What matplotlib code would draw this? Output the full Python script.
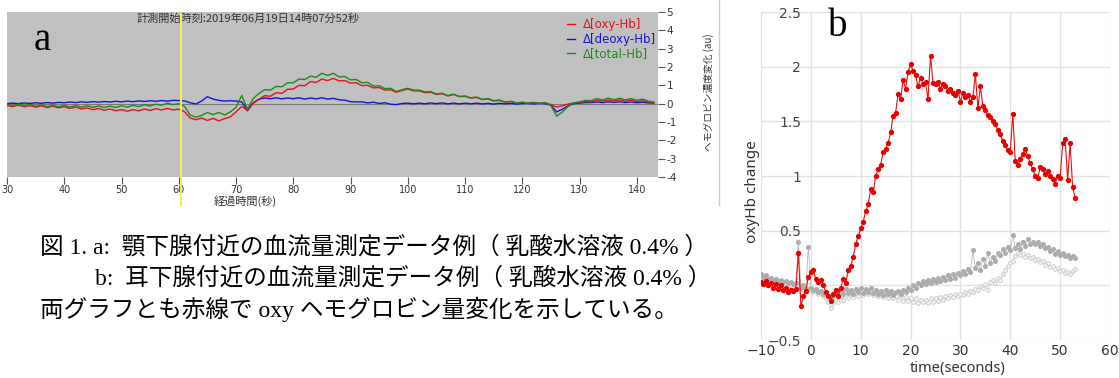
import matplotlib
matplotlib.use("Agg")
import matplotlib.pyplot as plt
import numpy as np
from matplotlib.lines import Line2D
from matplotlib.ticker import FuncFormatter

# ============================================================
# PANEL A: NIRS trace (1 s steps, 30 .. 143 s)
# ============================================================
a_time = np.arange(30, 144)

a_oxy = [
    -0.10, -0.16, -0.08, -0.17, -0.11, -0.19, -0.12, -0.21, -0.14, -0.23,
    -0.17, -0.26, -0.19, -0.29, -0.23, -0.33, -0.26, -0.36, -0.29, -0.39,
    -0.32, -0.41, -0.33, -0.39, -0.29, -0.37, -0.27, -0.35, -0.26, -0.34,
    -0.30, -0.44, -0.78, -0.88, -0.78, -0.92, -0.80, -0.94, -0.82, -0.72,
    -0.45, -0.15, -0.38, 0.02, 0.24, 0.44, 0.40, 0.60, 0.56, 0.78,
    0.80, 1.00, 0.98, 1.20, 1.16, 1.34, 1.26, 1.38, 1.24, 1.26,
    1.12, 1.14, 0.98, 1.00, 0.86, 0.88, 0.74, 0.76, 0.62, 0.72,
    0.80, 0.70, 0.70, 0.60, 0.62, 0.50, 0.54, 0.42, 0.50, 0.38,
    0.40, 0.30, 0.34, 0.22, 0.26, 0.14, 0.18, 0.08, 0.12, 0.03,
    0.07, 0.02, 0.06, 0.01, 0.05, -0.05, -0.18, -0.12, -0.02, 0.04,
    0.06, 0.12, 0.10, 0.18, 0.13, 0.20, 0.14, 0.21, 0.13, 0.19,
    0.12, 0.16, 0.09, 0.06,
]

a_deoxy = [
    0.00, 0.03, 0.00, 0.04, 0.01, 0.05, 0.02, 0.06, 0.03, 0.07,
    0.05, 0.09, 0.06, 0.10, 0.07, 0.11, 0.08, 0.12, 0.09, 0.13,
    0.10, 0.14, 0.11, 0.15, 0.12, 0.16, 0.13, 0.17, 0.14, 0.18,
    0.17, 0.15, 0.05, -0.02, 0.15, 0.38, 0.25, 0.18, 0.14, 0.16,
    0.14, 0.10, -0.38, 0.05, 0.24, 0.31, 0.27, 0.32, 0.26, 0.31,
    0.27, 0.32, 0.25, 0.31, 0.26, 0.32, 0.25, 0.29, 0.21, 0.19,
    0.11, 0.09, 0.10, 0.04, 0.08, 0.01, 0.05, -0.03, -0.05, 0.01,
    0.03, -0.01, 0.03, -0.01, 0.04, 0.00, 0.04, -0.01, 0.03, -0.01,
    0.03, -0.01, 0.03, -0.01, 0.02, -0.02, 0.02, -0.01, 0.02, -0.02,
    0.01, 0.02, -0.01, 0.02, 0.00, -0.08, -0.45, -0.30, -0.12, 0.00,
    0.03, 0.06, 0.06, 0.09, 0.06, 0.10, 0.07, 0.10, 0.06, 0.09,
    0.05, 0.08, 0.04, 0.03,
]

a_total = [
    -0.04, -0.11, -0.03, -0.13, -0.05, -0.14, -0.07, -0.16, -0.08, -0.17,
    -0.09, -0.18, -0.10, -0.19, -0.11, -0.20, -0.12, -0.21, -0.13, -0.21,
    -0.11, -0.19, -0.09, -0.16, -0.06, -0.13, -0.03, -0.09, 0.03, -0.05,
    0.00, -0.15, -0.62, -0.74, -0.64, -0.48, -0.60, -0.48, -0.62, -0.45,
    -0.20, 0.45, -0.30, 0.28, 0.56, 0.76, 0.74, 0.94, 0.92, 1.14,
    1.14, 1.34, 1.32, 1.50, 1.44, 1.66, 1.54, 1.66, 1.46, 1.48,
    1.30, 1.32, 1.14, 1.16, 0.96, 0.98, 0.82, 0.84, 0.66, 0.76,
    0.84, 0.74, 0.74, 0.64, 0.66, 0.53, 0.57, 0.44, 0.52, 0.40,
    0.42, 0.32, 0.36, 0.24, 0.28, 0.16, 0.20, 0.09, 0.13, 0.04,
    0.08, 0.03, 0.07, 0.02, 0.06, -0.10, -0.68, -0.45, -0.15, 0.05,
    0.10, 0.18, 0.16, 0.28, 0.20, 0.30, 0.21, 0.30, 0.20, 0.28,
    0.18, 0.25, 0.14, 0.08,
]

a_xticks = [30, 40, 50, 60, 70, 80, 90, 100, 110, 120, 130, 140]
a_yticks = [5, 4, 3, 2, 1, 0, -1, -2, -3, -4]
a_labels = ["Δ[oxy-Hb]", "Δ[deoxy-Hb]", "Δ[total-Hb]"]
a_marker_time = 60.4

# ============================================================
# PANEL B: oxyHb change (0.5 s steps, -10 .. 53 s)
# ============================================================
b_oxy = [
    0.03, 0.01, 0.04, 0.00, 0.02, -0.02, 0.01, -0.03, 0.00, -0.04,
    -0.02, -0.06, -0.04, -0.05, -0.03, 0.30, -0.19, -0.10, -0.05, 0.08,
    0.12, 0.14, 0.06, 0.03, 0.05, 0.00, -0.06, -0.10, -0.14, -0.08,
    -0.04, -0.10, -0.02, 0.06, 0.02, 0.14, 0.18, 0.26, 0.38, 0.45,
    0.52, 0.58, 0.68, 0.74, 0.88, 0.85, 1.00, 1.06, 1.10, 1.22,
    1.25, 1.30, 1.40, 1.55, 1.58, 1.75, 1.70, 1.88, 1.80, 1.95,
    2.02, 1.96, 1.92, 1.82, 1.90, 1.84, 1.86, 1.70, 2.10, 1.85,
    1.84, 1.86, 1.80, 1.84, 1.82, 1.78, 1.80, 1.76, 1.74, 1.78,
    1.68, 1.76, 1.72, 1.74, 1.68, 1.72, 1.93, 1.62, 1.82, 1.64,
    1.60, 1.56, 1.54, 1.50, 1.48, 1.42, 1.38, 1.32, 1.28, 1.24,
    1.22, 1.57, 1.14, 1.10, 1.16, 1.20, 1.25, 1.18, 1.12, 1.06,
    1.00, 0.98, 1.08, 1.06, 1.02, 1.05, 1.00, 0.97, 0.93, 1.00,
    0.98, 1.30, 1.34, 0.96, 1.30, 0.90, 0.80,
]

b_grey_dark = [
    0.10, 0.08, 0.09, 0.06, 0.07, 0.05, 0.06, 0.04, 0.05, 0.03,
    0.04, 0.02, 0.03, 0.01, 0.02, 0.40, -0.02, 0.00, -0.03, 0.35,
    -0.02, -0.04, -0.03, -0.06, -0.05, -0.08, -0.07, -0.10, -0.12, -0.09,
    -0.06, -0.10, -0.05, -0.08, -0.03, -0.07, -0.04, -0.08, -0.03, -0.06,
    -0.02, -0.07, -0.03, -0.06, -0.02, -0.07, -0.04, -0.08, -0.05, -0.09,
    -0.04, -0.08, -0.05, -0.09, -0.06, -0.05, -0.08, -0.04, -0.06, -0.02,
    -0.04, 0.00, -0.02, 0.02, 0.00, 0.04, 0.01, 0.05, 0.02, 0.06,
    0.03, 0.07, 0.04, 0.08, 0.05, 0.09, 0.06, 0.10, 0.07, 0.11,
    0.09, 0.13, 0.10, 0.15, 0.12, 0.32, 0.16, 0.20, 0.14, 0.24,
    0.18, 0.30, 0.20, 0.26, 0.22, 0.30, 0.28, 0.33, 0.30, 0.35,
    0.32, 0.46, 0.34, 0.38, 0.33, 0.40, 0.36, 0.42, 0.38, 0.40,
    0.38, 0.40, 0.36, 0.38, 0.34, 0.35, 0.31, 0.33, 0.29, 0.31,
    0.28, 0.30, 0.27, 0.28, 0.25, 0.27, 0.25,
]

b_grey_light = [
    0.06, 0.04, 0.05, 0.03, 0.04, 0.02, 0.03, 0.01, 0.02, 0.00,
    0.01, -0.01, 0.00, -0.02, -0.01, 0.05, -0.03, -0.04, -0.02, 0.00,
    -0.04, -0.06, -0.05, -0.08, -0.07, -0.10, -0.12, -0.15, -0.21, -0.16,
    -0.12, -0.15, -0.10, -0.13, -0.09, -0.12, -0.08, -0.11, -0.07, -0.10,
    -0.06, -0.09, -0.05, -0.08, -0.06, -0.09, -0.06, -0.10, -0.07, -0.11,
    -0.08, -0.12, -0.09, -0.12, -0.10, -0.13, -0.10, -0.14, -0.11, -0.14,
    -0.12, -0.15, -0.12, -0.16, -0.13, -0.15, -0.13, -0.16, -0.12, -0.15,
    -0.12, -0.14, -0.11, -0.13, -0.10, -0.12, -0.09, -0.11, -0.08, -0.10,
    -0.08, -0.09, -0.06, -0.08, -0.05, -0.06, -0.03, -0.04, -0.01, -0.02,
    0.01, -0.04, 0.03, 0.05, 0.02, 0.07, 0.05, 0.10, 0.14, 0.18,
    0.20, 0.22, 0.27, 0.30, 0.28, 0.29, 0.26, 0.28, 0.25, 0.26,
    0.23, 0.24, 0.21, 0.22, 0.19, 0.20, 0.17, 0.18, 0.15, 0.16,
    0.13, 0.14, 0.11, 0.12, 0.10, 0.13, 0.15,
]
b_time = -10 + 0.5 * np.arange(len(b_oxy))

CJK = ["Noto Sans CJK JP", "DejaVu Sans"]
SERIF = ["Liberation Serif", "Noto Sans CJK JP"]

W, H = 1119, 378
fig = plt.figure(figsize=(W / 100, H / 100), dpi=100)
fig.patch.set_facecolor("white")


def box(l, t, r, b):
    # pixel box -> figure fraction
    return [l / W, 1 - b / H, (r - l) / W, (b - t) / H]


# ------------------------------------------------------------
# panel a
# ------------------------------------------------------------
ax = fig.add_axes(box(7, 12, 658, 177))
ax.set_facecolor("#c0c0c0")
ax.axhline(0, color="#7a7a7a", lw=0.8, zorder=1)
ax.plot(a_time, a_oxy, color="#e8101a", lw=1.0, label=a_labels[0], zorder=3)
ax.plot(a_time, a_deoxy, color="#1414d8", lw=1.0, label=a_labels[1], zorder=2)
ax.plot(a_time, a_total, color="#1e8a1e", lw=1.0, label=a_labels[2], zorder=4)
ax.axvline(a_marker_time, ymin=-0.17, ymax=1, color="#f2f24a", lw=1.4,
           clip_on=False, zorder=5)
ax.set_xlim(30, 143.7)
ax.set_ylim(-4, 5)
for s in ax.spines.values():
    s.set_visible(False)
ax.set_xticks(a_xticks)
ax.set_xticklabels([str(v) for v in a_xticks], fontsize=7, color="#333333")
ax.tick_params(axis="x", length=5, width=0.8, color="#555555", pad=1)
ax.yaxis.tick_right()
ax.set_yticks(a_yticks)
ax.set_yticklabels([str(v) for v in a_yticks], fontsize=7.5, color="#333333")
ax.tick_params(axis="y", length=5, width=0.8, color="#555555", pad=1)
leg = ax.legend(loc="upper right", bbox_to_anchor=(1.0, 0.975), frameon=False,
                fontsize=8.5, handlelength=0.7, handletextpad=0.6, labelspacing=0.12,
                labelcolor="linecolor", borderaxespad=0.0, borderpad=0.2)
ax.text(0.37, 0.96, "計測開始時刻:2019年06月19日14時07分52秒", transform=ax.transAxes,
        ha="center", va="center", fontsize=8, family=CJK, color="#333333")
fig.text(245 / W, 1 - 201 / H, "経過時間(秒)", ha="center", va="center",
         fontsize=8, family=CJK, color="#333333")
fig.text(709 / W, 1 - 92 / H, "ヘモグロビン濃度変化 (au)", ha="center", va="center",
         rotation=90, fontsize=7, family=CJK, color="#333333")
fig.add_artist(Line2D([719 / W, 719 / W], [1 - 205 / H, 1.0], color="#c8c8c8", lw=1))
fig.text(42 / W, 1 - 40 / H, "a", ha="center", va="center", fontsize=28,
         family=SERIF, color="black")

# ------------------------------------------------------------
# panel b
# ------------------------------------------------------------
bx = fig.add_axes(box(761, 12, 1110, 340))
bx.plot(b_time, b_grey_light, color="#d6d6d6", lw=0.6, marker="o", ms=2.6,
        mfc="white", mec="#cdcdcd", mew=0.8, zorder=2)
bx.plot(b_time, b_grey_dark, color="#b8b8b8", lw=0.6, marker="o", ms=2.6,
        mfc="#acacac", mec="#acacac", zorder=3)
bx.plot(b_time, b_oxy, color="#e81010", lw=0.8, marker="o", ms=2.8,
        mfc="#e80000", mec="#e80000", zorder=4)
bx.set_xlim(-10, 60)
bx.set_ylim(-0.5, 2.5)
bx.set_xticks(np.arange(-10, 61, 10))
bx.set_yticks(np.arange(-0.5, 2.51, 0.5))
bx.grid(True, color="#e2e2e2", lw=1)
bx.set_axisbelow(True)
for s in ["top", "right", "bottom"]:
    bx.spines[s].set_visible(False)
bx.spines["left"].set_position(("data", 0))
bx.spines["left"].set_visible(False)
bx.yaxis.set_major_formatter(FuncFormatter(lambda v, p: f"{v:g}".replace("-", "−")))
bx.tick_params(axis="y", length=0, pad=7, labelsize=10, labelcolor="#444444")
bx.tick_params(axis="x", length=0, pad=3, labelsize=10, labelcolor="#333333")
bx.set_xlabel("time(seconds)", fontsize=10.5, color="#333333", family=["Noto Sans"])
bx.xaxis.set_label_coords((958 - 761) / 349, -0.065)
fig.text(752 / W, 1 - 192 / H, "oxyHb change", rotation=90, ha="center", va="center",
         fontsize=11, color="#333333", family=["Noto Sans"])
fig.text(838 / W, 1 - 27 / H, "b", ha="center", va="center", fontsize=28,
         family=SERIF, color="black")

# ------------------------------------------------------------
# caption
# ------------------------------------------------------------
cap1 = "図 1. a:  顎下腺付近の血流量測定データ例（ 乳酸水溶液 0.4% ）"
cap2 = "b:  耳下腺付近の血流量測定データ例（ 乳酸水溶液 0.4% ）"
cap3 = "両グラフとも赤線で oxy ヘモグロビン量変化を示している。"
fig.text(40 / W, 1 - 247 / H, cap1, ha="left", va="center", fontsize=17, family=SERIF)
fig.text(95 / W, 1 - 278 / H, cap2, ha="left", va="center", fontsize=17, family=SERIF)
fig.text(40 / W, 1 - 309 / H, cap3, ha="left", va="center", fontsize=17, family=SERIF)

fig.savefig("out.png", dpi=100, facecolor="white")
